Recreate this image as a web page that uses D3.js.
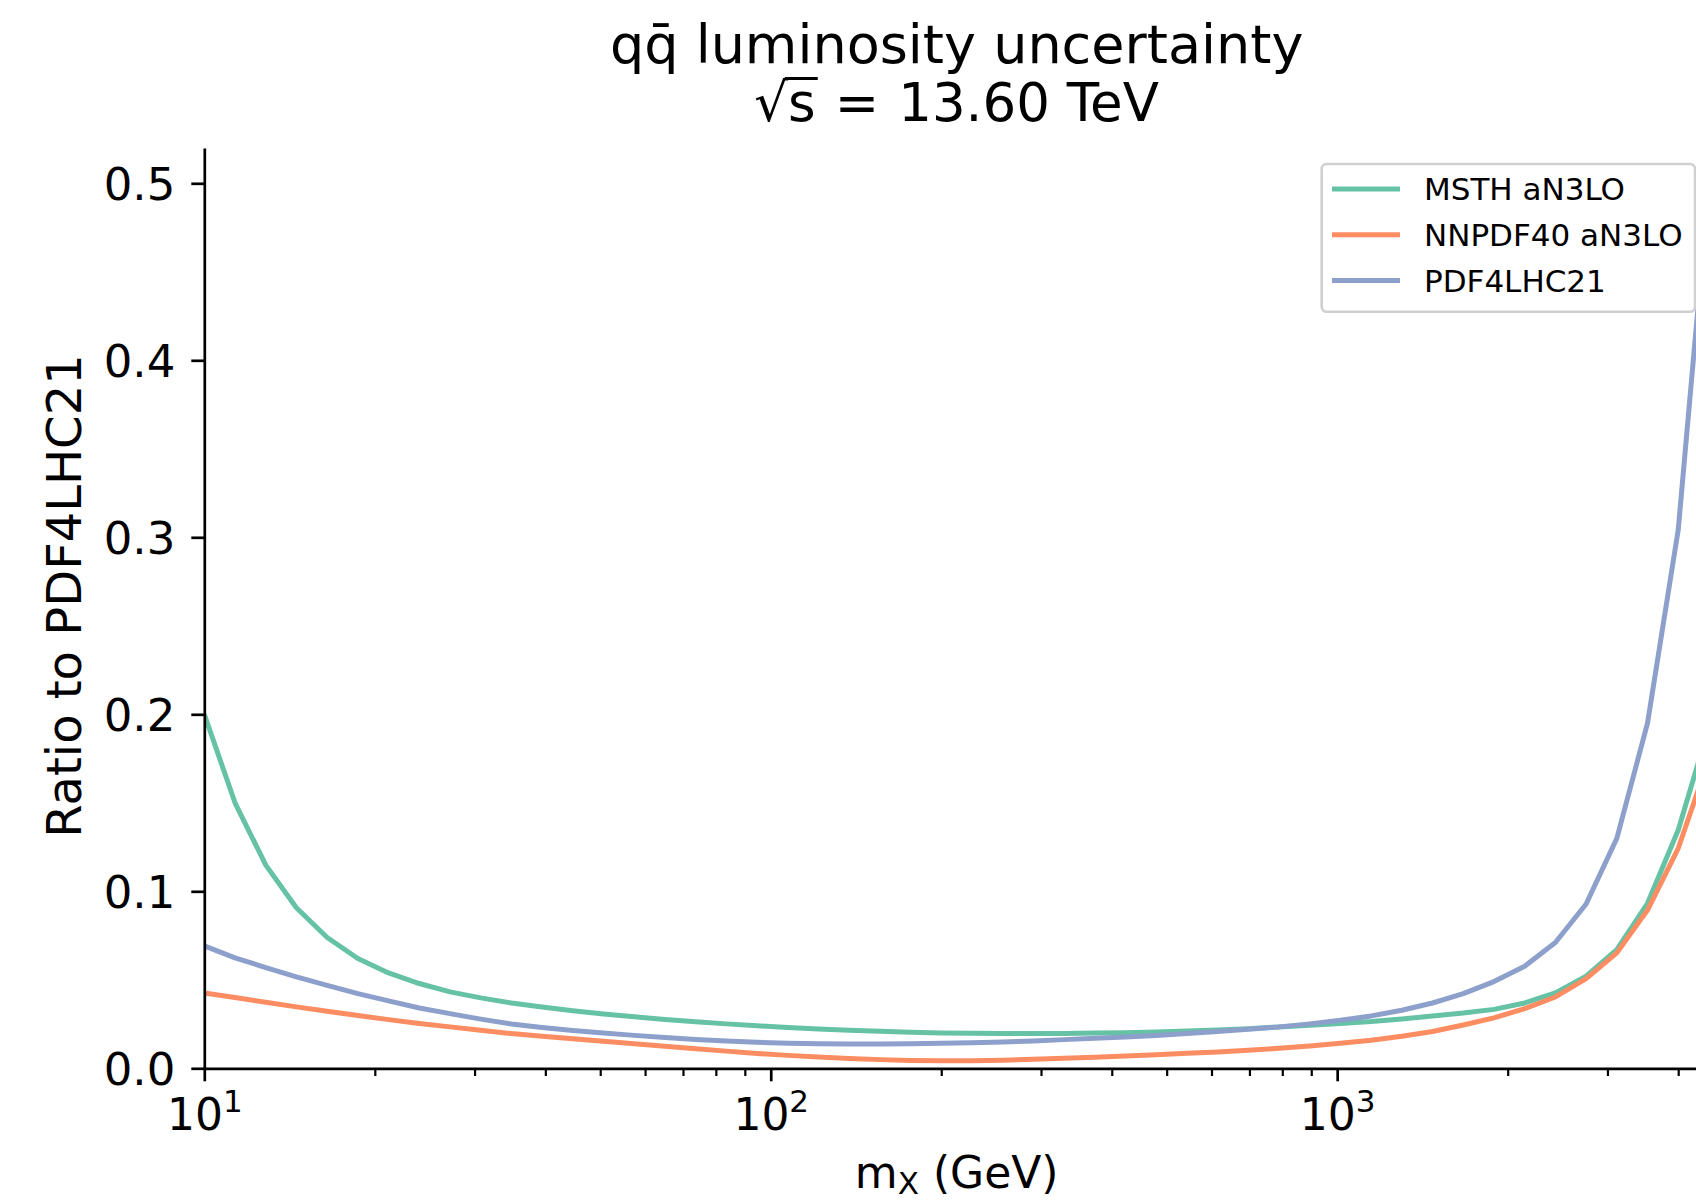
<!DOCTYPE html>
<html><head><meta charset="utf-8">
<script src="https://cdn.jsdelivr.net/npm/d3@7"></script>
<style>body{margin:0;background:#fff} svg{display:block} text{font-family:"DejaVu Sans",sans-serif;fill:#000;white-space:pre}</style>
</head><body><svg id="c" width="1696" height="1204"></svg>
<script>
// ---- data ----
const massGeV = [10, 11.33, 12.84, 14.54, 16.48, 18.67, 21.15, 23.96, 27.15, 30.76,
  34.84, 39.48, 44.73, 50.67, 57.41, 65.04, 73.69, 83.49, 94.58, 107.15,
  121.40, 137.54, 155.82, 176.53, 200.0, 226.6, 256.7, 290.8, 329.5, 373.3,
  422.9, 479.1, 542.9, 615.0, 696.8, 789.4, 894.4, 1013.4, 1148.1, 1300.7,
  1473.6, 1669.6, 1891.5, 2143.0, 2428.0, 2750.8, 3116.6, 3531.0, 4000.5, 4533.3];
const msth = [0.200, 0.150, 0.1148, 0.0907, 0.0739, 0.0620, 0.0539, 0.0479, 0.0432, 0.0398,
  0.0369, 0.0346, 0.0325, 0.0307, 0.0291, 0.0276, 0.0263, 0.0251, 0.0240, 0.0230,
  0.0222, 0.0215, 0.0209, 0.0204, 0.0200, 0.0198, 0.0197, 0.0196, 0.0197, 0.0199,
  0.0201, 0.0205, 0.0211, 0.0217, 0.0224, 0.0234, 0.0243, 0.0253, 0.0264, 0.0279,
  0.0296, 0.0312, 0.0333, 0.0369, 0.0426, 0.0520, 0.0671, 0.0932, 0.1346, 0.193];
const nnpdf = [0.0426, 0.0400, 0.0373, 0.0347, 0.0322, 0.0298, 0.0275, 0.0253, 0.0234, 0.0215,
  0.0196, 0.0181, 0.0167, 0.0153, 0.0139, 0.0125, 0.0111, 0.0097, 0.0084, 0.0073,
  0.0064, 0.0056, 0.0049, 0.0044, 0.0042, 0.0042, 0.0045, 0.0051, 0.0057, 0.0062,
  0.0070, 0.0077, 0.0085, 0.0092, 0.0102, 0.0113, 0.0126, 0.0141, 0.0158, 0.0181,
  0.0208, 0.0245, 0.0285, 0.0337, 0.0403, 0.0507, 0.0652, 0.0894, 0.1243, 0.175];
const pdf4lhc = [0.0692, 0.0624, 0.0569, 0.0517, 0.0469, 0.0422, 0.0381, 0.0341, 0.0309, 0.0278,
  0.0250, 0.0230, 0.0213, 0.0199, 0.0186, 0.0174, 0.0163, 0.0154, 0.0147, 0.0142,
  0.0139, 0.0137, 0.0137, 0.0138, 0.0141, 0.0145, 0.0149, 0.0154, 0.0162, 0.0170,
  0.0177, 0.0185, 0.0196, 0.0208, 0.0221, 0.0234, 0.0251, 0.0271, 0.0296, 0.0328,
  0.0369, 0.0422, 0.0490, 0.0577, 0.0711, 0.0928, 0.1299, 0.1950, 0.3043, 0.500];
const seriesNames = ["MSTH aN3LO", "NNPDF40 aN3LO", "PDF4LHC21"];
const seriesColors = ["#66c2a5", "#fc8d62", "#8da0cb"];
const yTicks = [0, 0.1, 0.2, 0.3, 0.4, 0.5];
const xMajorTicks = [10, 100, 1000];
const xMinorTicks = [20,30,40,50,60,70,80,90,200,300,400,500,600,700,800,900,2000,3000,4000];
const titleLine1 = "qq\u0304 luminosity uncertainty";
const xLabelMain = "m", xLabelSub = "X", xLabelRest = " (GeV)";
const yLabel = "Ratio to PDF4LHC21";

// ---- layout ----
const W = 1696, H = 1204;
const L = 204.3, R = 1709, T = 147.9, B = 1068.3;
const svg = d3.select("#c");
svg.append("rect").attr("width", W).attr("height", H).attr("fill", "#fff");

const x = d3.scaleLog().domain([10, 4533.3]).range([L, R]);
const y = d3.scaleLinear().domain([0, 0.52]).range([B, T]);

svg.append("clipPath").attr("id", "clip").append("rect")
  .attr("x", L).attr("y", T).attr("width", R - L).attr("height", B - T);

const allSeries = [msth, nnpdf, pdf4lhc];
const line = d3.line().x(d => x(d[0])).y(d => y(d[1]));
const plot = svg.append("g").attr("clip-path", "url(#clip)");
allSeries.forEach((vals, i) => {
  plot.append("path")
    .datum(massGeV.map((m, j) => [m, vals[j]]))
    .attr("d", line)
    .attr("fill", "none")
    .attr("stroke", seriesColors[i])
    .attr("stroke-width", 5)
    .attr("stroke-linejoin", "round");
});

// x axis
const gx = svg.append("g").attr("transform", `translate(0,${B})`)
  .call(d3.axisBottom(x).tickValues(xMajorTicks).tickSize(13).tickSizeOuter(0).tickFormat(() => ""));
gx.select(".domain").attr("stroke", "#000").attr("stroke-width", 2.7);
gx.selectAll(".tick line").attr("stroke", "#000").attr("stroke-width", 2.7);
gx.selectAll(".tick text").each(function(d) {
  const t = d3.select(this);
  t.attr("y", null).attr("dy", null).attr("font-size", 44).attr("text-anchor", "middle")
   .attr("font-family", "DejaVu Sans").attr("fill", "#000")
   .attr("transform", "translate(0,62)");
  t.text("");
  t.append("tspan").text("10");
  t.append("tspan").attr("font-size", 31).attr("dy", -18.3).text(String(Math.round(Math.log10(d))));
});
const gxm = svg.append("g").attr("transform", `translate(0,${B})`)
  .call(d3.axisBottom(x).tickValues(xMinorTicks).tickSize(7.7).tickSizeOuter(0).tickFormat(() => ""));
gxm.select(".domain").remove();
gxm.selectAll(".tick line").attr("stroke", "#000").attr("stroke-width", 2.2);

// y axis
const gy = svg.append("g").attr("transform", `translate(${L},0)`)
  .call(d3.axisLeft(y).tickValues(yTicks).tickFormat(d3.format(".1f")).tickSize(13).tickPadding(16).tickSizeOuter(0));
gy.select(".domain").attr("stroke", "#000").attr("stroke-width", 2.7);
gy.selectAll(".tick line").attr("stroke", "#000").attr("stroke-width", 2.7);
gy.selectAll(".tick text").attr("font-size", 45).attr("dy", "0.36em")
  .attr("font-family", "DejaVu Sans").attr("fill", "#000");

// axis labels
const xl = svg.append("text").attr("x", (L + R) / 2).attr("y", 1188)
  .attr("text-anchor", "middle").attr("font-size", 44);
xl.append("tspan").text(xLabelMain);
xl.append("tspan").attr("font-size", 31).attr("dy", 6).text(xLabelSub);
xl.append("tspan").attr("dy", -6).text(xLabelRest);

svg.append("text").attr("transform", `translate(81,596) rotate(-90)`)
  .attr("text-anchor", "middle").attr("font-size", 48).text(yLabel);

// title
const cx = (L + R) / 2;
svg.append("text").attr("x", cx).attr("y", 63).attr("text-anchor", "middle")
  .attr("font-size", 54).text(titleLine1);
const f2 = 53, base2 = 121, gap = 19;
const tg = svg.append("g");
const tA = tg.append("text").attr("font-size", f2).attr("y", base2).text("\u221A");
const tB = tg.append("text").attr("font-size", f2).attr("y", base2).text("s");
const tE = tg.append("text").attr("font-size", f2).attr("y", base2).text("=");
const tD = tg.append("text").attr("font-size", f2).attr("y", base2).text("13.60 TeV");
const wA = tA.node().getComputedTextLength();
const wB = tB.node().getComputedTextLength();
const wE = tE.node().getComputedTextLength();
const wD = tD.node().getComputedTextLength();
const total = wA + wB + gap + wE + gap + wD;
const x0 = cx - total / 2;
tA.attr("x", x0);
tB.attr("x", x0 + wA);
tE.attr("x", x0 + wA + wB + gap);
tD.attr("x", x0 + wA + wB + gap + wE + gap);
const vinY = base2 - 0.80 * f2;
tg.append("line").attr("x1", x0 + wA * 0.9).attr("x2", x0 + wA + wB + 2)
  .attr("y1", vinY).attr("y2", vinY)
  .attr("stroke", "#000").attr("stroke-width", 3);

// legend
const lg = svg.append("g");
lg.append("rect").attr("x", 1321.7).attr("y", 164).attr("width", 373.3).attr("height", 147.7)
  .attr("rx", 5).attr("fill", "#fff").attr("fill-opacity", 0.8)
  .attr("stroke", "#d0d0d0").attr("stroke-width", 2.6);
seriesNames.forEach((n, i) => {
  const yy = 189 + i * 45.8;
  lg.append("line").attr("x1", 1332).attr("x2", 1400).attr("y1", yy).attr("y2", yy)
    .attr("stroke", seriesColors[i]).attr("stroke-width", 5);
  lg.append("text").attr("x", 1424).attr("y", yy + 11).attr("font-size", 31).text(n);
});
</script></body></html>
